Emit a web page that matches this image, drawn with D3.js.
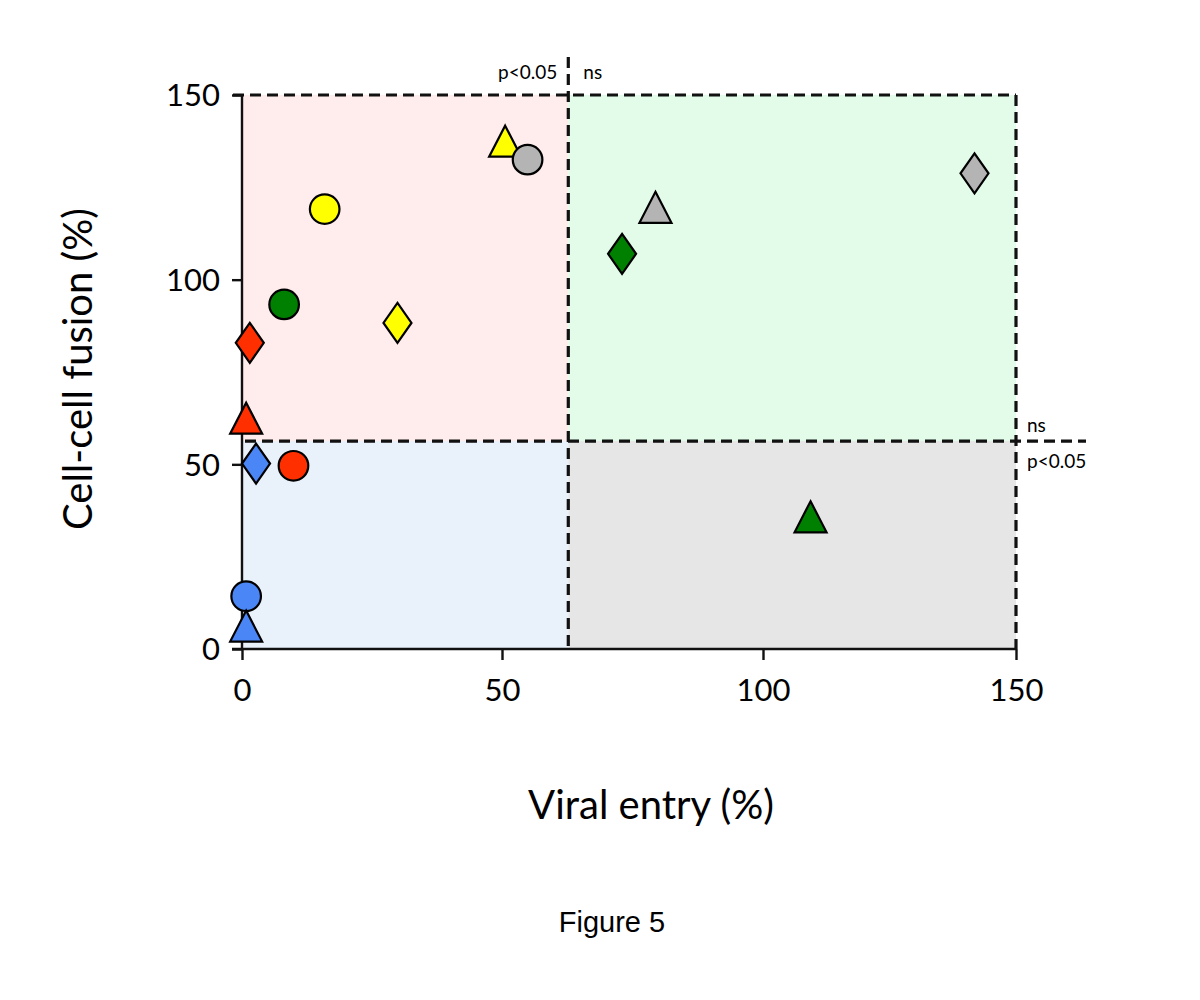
<!DOCTYPE html>
<html>
<head>
<meta charset="utf-8">
<script src="https://cdn.jsdelivr.net/npm/d3@7"></script>
<style>
  html, body { margin: 0; padding: 0; background: #fff; }
  svg { display: block; }
</style>
</head>
<body>
<svg id="chart" width="1200" height="1000"></svg>
<script>
// ---- data ----
const pointColors = ["yellow", "grey", "yellow", "green", "yellow", "red", "red", "blue", "red", "blue", "blue", "green", "grey", "grey", "green"];
const pointShapes = ["triangle", "circle", "circle", "circle", "diamond", "diamond", "triangle", "diamond", "circle", "circle", "triangle", "diamond", "triangle", "diamond", "triangle"];
const viralEntry  = [50.6, 54.9, 15.9, 8.1, 29.9, 1.5, 0.8, 2.7, 9.9, 0.8, 0.8, 73.0, 79.4, 141.8, 109.4];
const cellFusion  = [137.5, 132.5, 119.1, 93.3, 88.3, 82.9, 62.5, 50.2, 49.6, 14.3, 6.2, 107.0, 119.6, 128.8, 35.8];
const xTicks = [0, 50, 100, 150];
const yTicks = [0, 50, 100, 150];
const entryThreshold = 62.7;
const fusionThreshold = 56.3;
const colorMap = { red: "#ff2f00", blue: "#4a86f5", yellow: "#ffff00", green: "#008000", grey: "#b4b4b4" };

// ---- layout ----
const svg = d3.select("#chart");
const x = d3.scaleLinear().domain([0, 50, 100, 150]).range([242, 502, 763, 1016]);
const y = d3.scaleLinear().domain([0, 150]).range([649, 95]);
const font = "Lato, 'Open Sans', sans-serif";

// quadrant backgrounds
const quads = [
  { x0: 0, x1: entryThreshold, y0: fusionThreshold, y1: 150, fill: "#ffecec" },
  { x0: entryThreshold, x1: 150, y0: fusionThreshold, y1: 150, fill: "#e3fcea" },
  { x0: 0, x1: entryThreshold, y0: 0, y1: fusionThreshold, fill: "#e9f1fa" },
  { x0: entryThreshold, x1: 150, y0: 0, y1: fusionThreshold, fill: "#e6e6e6" }
];
svg.append("g").selectAll("rect").data(quads).join("rect")
  .attr("x", d => x(d.x0)).attr("width", d => x(d.x1) - x(d.x0))
  .attr("y", d => y(d.y1)).attr("height", d => y(d.y0) - y(d.y1))
  .attr("fill", d => d.fill);

// dashed lines
const dash = "11,6";
const dl = svg.append("g").attr("stroke", "#111").attr("stroke-width", 3.2).attr("stroke-dasharray", dash).attr("fill", "none");
dl.append("line").attr("x1", x(0) - 9).attr("x2", x(150)).attr("y1", y(150)).attr("y2", y(150));
dl.append("line").attr("x1", x(150)).attr("x2", x(150)).attr("y1", y(150)).attr("y2", y(0));
dl.append("line").attr("x1", x(entryThreshold)).attr("x2", x(entryThreshold)).attr("y1", 57).attr("y2", y(0));
dl.append("line").attr("x1", x(0) + 3).attr("x2", 1086).attr("y1", y(fusionThreshold)).attr("y2", y(fusionThreshold));

// axes
const xAxis = svg.append("g").attr("transform", `translate(0,${y(0)})`)
  .call(d3.axisBottom(x).tickValues(xTicks).tickSize(11).tickPadding(19).tickFormat(d3.format("d")));
const yAxis = svg.append("g").attr("transform", `translate(${x(0)},0)`)
  .call(d3.axisLeft(y).tickValues(yTicks).tickSize(10).tickPadding(12).tickFormat(d3.format("d")));
[xAxis, yAxis].forEach(a => {
  a.select(".domain").attr("stroke", "#111").attr("stroke-width", 2.4);
  a.selectAll(".tick line").attr("stroke", "#111").attr("stroke-width", 2.4);
  a.selectAll(".tick text").attr("fill", "#000").style("font-family", font).style("font-size", "31px");
});
xAxis.select(".domain").attr("d", `M${x(0) - 10},0H${x(150)}`);
yAxis.select(".domain").attr("d", `M0,${y(150)}V${y(0)}`);
yAxis.selectAll(".tick text").attr("dy", "0.35em");

// significance labels
const lab = svg.append("g").style("font-family", font).style("font-size", "19px").attr("fill", "#000");
lab.append("text").attr("x", x(entryThreshold) - 11).attr("y", 79).attr("text-anchor", "end").text("p<0.05");
lab.append("text").attr("x", x(entryThreshold) + 15).attr("y", 79).text("ns");
lab.append("text").attr("x", x(150) + 11).attr("y", y(fusionThreshold) - 9).text("ns");
lab.append("text").attr("x", x(150) + 11).attr("y", y(fusionThreshold) + 27).text("p<0.05");

// markers
function shapePath(s) {
  if (s === "circle") return "M14.8,0A14.8,14.8,0,1,1,-14.8,0A14.8,14.8,0,1,1,14.8,0Z";
  if (s === "diamond") return "M0,-20L14,0L0,20L-14,0Z";
  return "M0,-15.5L16,15.5L-16,15.5Z";
}
const points = viralEntry.map((v, i) => ({ v, f: cellFusion[i], c: pointColors[i], s: pointShapes[i] }));
svg.append("g").selectAll("path").data(points).join("path")
  .attr("transform", d => `translate(${x(d.v)},${y(d.f)})`)
  .attr("d", d => shapePath(d.s))
  .attr("fill", d => colorMap[d.c])
  .attr("stroke", "#000").attr("stroke-width", 2.2).attr("stroke-linejoin", "miter");

// axis titles
svg.append("text").attr("x", 651).attr("y", 819).attr("text-anchor", "middle")
  .style("font-family", font).style("font-size", "40px").text("Viral entry (%)");
svg.append("text").attr("transform", "translate(92,369) rotate(-90)").attr("text-anchor", "middle")
  .style("font-family", font).style("font-size", "40px").text("Cell-cell fusion (%)");

// figure caption
svg.append("text").attr("x", 612).attr("y", 932).attr("text-anchor", "middle")
  .style("font-family", "'Liberation Sans', Arial, sans-serif").style("font-size", "29px").text("Figure 5");
</script>
</body>
</html>
